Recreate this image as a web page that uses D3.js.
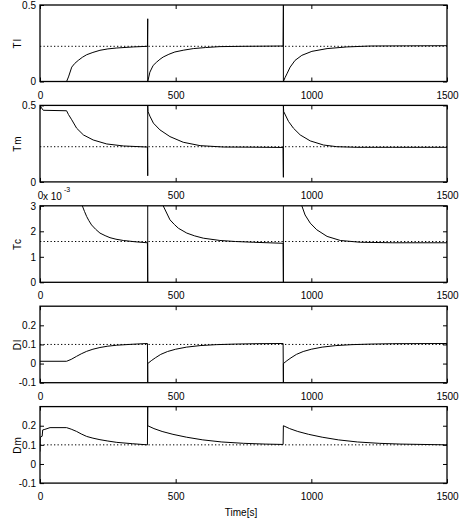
<!DOCTYPE html>
<html>
<head>
<meta charset="utf-8">
<script src="https://cdn.jsdelivr.net/npm/d3@7"></script>
<style>
  body { margin: 0; background: #fff; }
  text { font-family: "Liberation Sans Narrow", "Arial Narrow", "Liberation Sans", sans-serif; fill: #000; }
</style>
</head>
<body>
<script>
var width = 465, height = 526;

// time axis
var xTicks = [0, 500, 1000, 1500];

// panel labels, y ranges, y ticks and dotted reference levels
var names = ["Tl", "Tm", "Tc", "Dl", "Dm"];
var yDomains = [[0, 0.5], [0, 0.5], [0, 3], [-0.1, 0.3], [-0.1, 0.3]];
var yTicks = [[0, 0.5], [0, 0.5], [0, 1, 2, 3], [-0.1, 0, 0.1, 0.2], [-0.1, 0, 0.1, 0.2]];
var refLevels = [0.23, 0.23, 1.6, 0.1, 0.1];

// series, [time, value]
var tlData = [[0,0],[98,0],[105,0.03],[117,0.094],[128,0.118],[141,0.138],[156,0.158],[172,0.175],[195,0.19],[221,0.204],[250,0.213],[283,0.219],[344,0.226],[396,0.23],
  [397,0.41],[397,0],[401,0.03],[405,0.061],[417,0.105],[430,0.127],[442,0.145],[454,0.16],[475,0.178],[497,0.193],[530,0.205],[565,0.215],[610,0.222],[663,0.228],[750,0.23],[896,0.232],
  [897,0.5],[897,0],[903,0.025],[910,0.05],[922,0.094],[940,0.138],[965,0.171],[1002,0.197],[1058,0.215],[1131,0.226],[1217,0.232],[1350,0.233],[1500,0.234]];

var tmData = [[0,0.5],[3,0.49],[12,0.468],[98,0.465],[105,0.44],[117,0.406],[135,0.351],[160,0.307],[196,0.274],[246,0.248],[307,0.235],[393,0.228],[396,0.227],
  [397,0.04],[397,0.5],[398,0.46],[405,0.43],[418,0.384],[442,0.34],[479,0.296],[528,0.259],[590,0.237],[676,0.228],[774,0.227],[896,0.225],
  [897,0.03],[897,0.5],[898,0.46],[916,0.395],[934,0.351],[959,0.307],[996,0.268],[1045,0.241],[1094,0.23],[1168,0.226],[1300,0.226],[1500,0.226]];

// x 10^-3
var tcData = [[140,3.4],[156,3.0],[164,2.78],[172,2.58],[180,2.42],[190,2.25],[205,2.08],[221,1.93],[240,1.83],[258,1.75],[280,1.69],[307,1.64],[350,1.59],[396,1.55],
  [397,0],[397,4.5],[430,3.6],[454,3.0],[479,2.45],[495,2.27],[510,2.12],[541,1.93],[570,1.82],[602,1.73],[663,1.64],[720,1.6],[786,1.57],[896,1.53],
  [897,0],[897,4.5],[940,3.5],[965,3.0],[977,2.64],[996,2.32],[1020,2.06],[1058,1.8],[1107,1.64],[1180,1.57],[1300,1.55],[1500,1.55]];

var dlData = [[0,0.012],[98,0.012],[115,0.022],[135,0.038],[152,0.051],[172,0.064],[195,0.075],[221,0.084],[250,0.091],[283,0.096],[340,0.101],[396,0.105],
  [397,-0.1],[397,0.0],[410,0.015],[425,0.03],[445,0.048],[470,0.063],[500,0.075],[540,0.086],[590,0.094],[650,0.099],[720,0.102],[800,0.104],[896,0.105],
  [897,-0.1],[897,0.0],[910,0.015],[925,0.03],[945,0.048],[970,0.063],[1000,0.075],[1040,0.086],[1090,0.094],[1150,0.099],[1220,0.102],[1300,0.104],[1500,0.105]];

var dmData = [[0,0.065],[1,0.14],[8,0.145],[10,0.178],[18,0.181],[37,0.19],[98,0.19],[115,0.182],[135,0.17],[152,0.157],[172,0.144],[195,0.135],[221,0.127],[250,0.12],[283,0.113],[340,0.106],[396,0.1],
  [397,0.35],[397,0.2],[420,0.185],[450,0.17],[490,0.155],[540,0.14],[600,0.126],[670,0.115],[750,0.108],[830,0.104],[896,0.102],
  [897,0.2],[920,0.185],[950,0.17],[990,0.155],[1040,0.14],[1100,0.126],[1170,0.115],[1250,0.108],[1330,0.104],[1500,0.1]];

var series = [tlData, tmData, tcData, dlData, dmData];

var left = 40, right = 447;
var panelH = 76.5;

var svg = d3.select("body").append("svg")
    .attr("width", width)
    .attr("height", height);

var x = d3.scaleLinear().domain([0, 1500]).range([left, right]);

function drawPanel(i) {
    var pTop = 5 + i * 100.4;
    var y = d3.scaleLinear().domain(yDomains[i]).range([pTop + panelH, pTop]);
    var g = svg.append("g").attr("class", "panel");

    g.append("clipPath").attr("id", "clip" + i)
        .append("rect")
        .attr("x", left).attr("y", pTop)
        .attr("width", right - left).attr("height", panelH);

    // dotted reference
    g.append("line")
        .attr("x1", left).attr("x2", right)
        .attr("y1", y(refLevels[i])).attr("y2", y(refLevels[i]))
        .attr("stroke", "#000")
        .attr("stroke-width", 1)
        .attr("stroke-dasharray", "1.3,2.2");

    // response curve
    var line = d3.line()
        .x(function (d) { return x(d[0]); })
        .y(function (d) { return y(d[1]); });

    g.append("path")
        .datum(series[i])
        .attr("clip-path", "url(#clip" + i + ")")
        .attr("d", line)
        .attr("fill", "none")
        .attr("stroke", "#000")
        .attr("stroke-width", 1);

    // axes, ticks pointing inward
    g.append("g").attr("transform", "translate(0," + (pTop + panelH) + ")")
        .call(d3.axisBottom(x).tickValues(xTicks).tickSize(-4).tickPadding(10).tickFormat(d3.format("d")));
    g.append("g").attr("transform", "translate(0," + pTop + ")")
        .call(d3.axisTop(x).tickValues(xTicks).tickSize(-4).tickFormat(""));
    g.append("g").attr("transform", "translate(" + left + ",0)")
        .call(d3.axisLeft(y).tickValues(yTicks[i]).tickSize(-4).tickPadding(4).tickFormat(function (d) { return String(d); }));
    g.append("g").attr("transform", "translate(" + right + ",0)")
        .call(d3.axisRight(y).tickValues(yTicks[i]).tickSize(-4).tickFormat(""));

    g.selectAll(".domain").remove();
    g.selectAll(".tick line").attr("stroke", "#000").attr("stroke-width", 1);
    g.selectAll(".tick text").style("font-size", "10px").attr("fill", "#000");

    // frame
    g.append("rect")
        .attr("x", left).attr("y", pTop)
        .attr("width", right - left).attr("height", panelH)
        .attr("fill", "none")
        .attr("stroke", "#000")
        .attr("stroke-width", 1.3);

    // y label
    g.append("text")
        .attr("transform", "translate(21," + (pTop + panelH / 2) + ") rotate(-90)")
        .attr("text-anchor", "middle")
        .style("font-size", "10px")
        .style("letter-spacing", "1px")
        .text(names[i]);
}

for (let i = 0; i < names.length; i++) {
    drawPanel(i);
}

// exponent on the Tc axis
var expo = svg.append("text")
    .attr("x", 43).attr("y", 199.5)
    .style("font-size", "10px");
expo.append("tspan").text("x 10");
expo.append("tspan").attr("dx", 2).attr("dy", -8).style("font-size", "7px").text("-3");

svg.append("text")
    .attr("x", 241).attr("y", 516)
    .attr("text-anchor", "middle")
    .style("font-size", "10px")
    .text("Time[s]");
</script>
</body>
</html>
